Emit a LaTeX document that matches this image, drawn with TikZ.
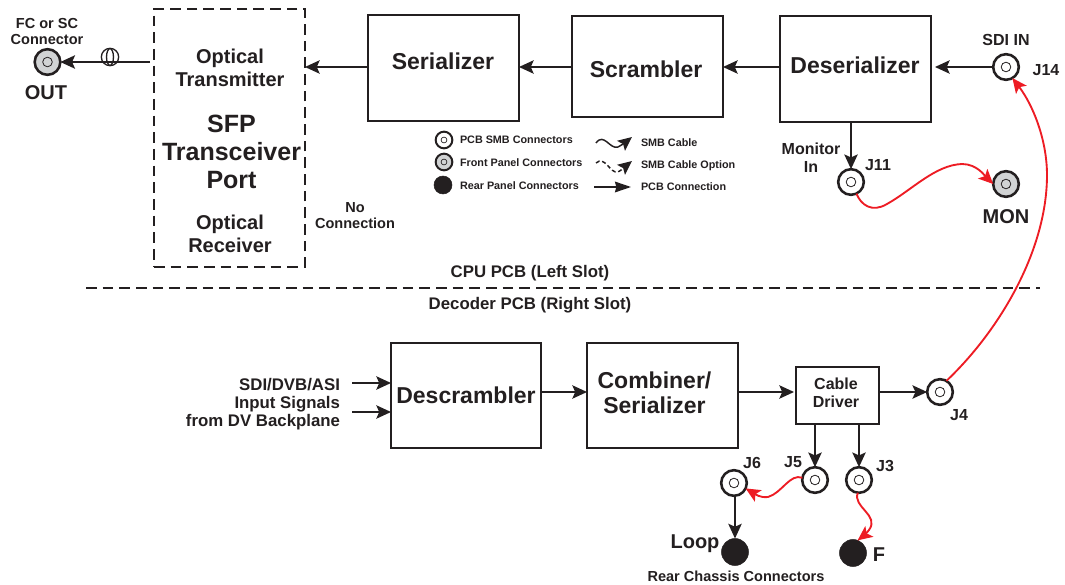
\documentclass[tikz,border=0pt]{standalone}
\usepackage{fontspec}
\setmainfont{Liberation Sans}
\usetikzlibrary{arrows.meta}
\definecolor{ink}{HTML}{231F20}
\definecolor{cablered}{HTML}{ED1C24}
\definecolor{panelgray}{HTML}{D1D3D4}
\tikzset{
  lbl/.style={inner sep=0pt,outer sep=0pt,align=center,text=ink,font=\bfseries},
  f11/.style={lbl,font=\fontsize{8.1}{10}\selectfont\bfseries},
  f14/.style={lbl,font=\fontsize{10.9}{12.6}\selectfont\bfseries},
  f17/.style={lbl,font=\fontsize{12.6}{13.5}\selectfont\bfseries},
  f16/.style={lbl,font=\fontsize{12}{13.5}\selectfont\bfseries},
  f20/.style={lbl,font=\fontsize{15}{17.25}\selectfont\bfseries},
  f23/.style={lbl,font=\fontsize{17.25}{20}\selectfont\bfseries},
  f25/.style={lbl,font=\fontsize{18.75}{21}\selectfont\bfseries},
  blockbox/.style={draw=ink,line width=1.6pt,fill=white,rectangle,inner sep=0pt,outer sep=0pt},
  pcbconn/.style={circle,draw=ink,line width=1.9pt,fill=white,minimum size=19.25pt,inner sep=0pt,outer sep=0pt,
    path picture={\draw[ink,line width=.6pt] (path picture bounding box.center) circle (3.6pt);}},
  panelconn/.style={pcbconn,fill=panelgray},
  rearconn/.style={circle,fill=ink,draw=ink,minimum size=20.25pt,inner sep=0pt,outer sep=0pt},
  pcbarrow/.style={draw=ink,line width=1.5pt,-{Stealth[length=11pt,width=10pt,inset=2.2pt]}},
  cable/.style={draw=cablered,line width=1.4pt,-{Stealth[length=11pt,width=10pt,inset=2.5pt]}},
  legendcurve/.style={draw=ink,line width=1.1pt,-{Stealth[length=10.5pt,width=9.5pt,inset=2pt]}},
}
\begin{document}
\begin{tikzpicture}[x=.75pt,y=-.75pt]
\useasboundingbox (0,0) rectangle (1065,585);
% blocks
\node[blockbox,dash pattern=on 8pt off 4.5pt,minimum width=113.25pt,minimum height=193.5pt] (sfp) at (229.5,138) {};
\node[blockbox,minimum width=113.25pt,minimum height=79.5pt] (ser) at (443.5,68) {};
\node[blockbox,minimum width=113.25pt,minimum height=75.75pt] (scr) at (647.5,66.5) {};
\node[blockbox,minimum width=113.25pt,minimum height=79.5pt] (des) at (855.5,69) {};
\node[blockbox,minimum width=112.5pt,minimum height=78.75pt] (dsc) at (466,395.5) {};
\node[blockbox,minimum width=113.25pt,minimum height=78.75pt] (cmb) at (662.5,395.5) {};
\node[blockbox,minimum width=62.25pt,minimum height=42.75pt] (drv) at (837.5,395.5) {};
% block text
\node[f23] (serT) at (443,61) {Serializer};
\node[f23] (scrT) at (646,69) {Scrambler};
\node[f23] (desT) at (855,65) {Deserializer};
\node[f23] (dscT) at (466,395) {Descrambler};
\node[f23] (cmbT) at (654.5,393) {Combiner/\\[-1.25pt]Serializer};
\node[f16] (drvT) at (836,393) {Cable\\Driver};
\node[f20] (txT) at (230,67.5) {Optical\\Transmitter};
\node[f25] (sfpT) at (231.5,152) {SFP\\Transceiver\\Port};
\node[f20] (rxT) at (230,233.5) {Optical\\Receiver};
% connectors
\node[panelconn] (out) at (47.5,62) {};
\node[pcbconn] (j14) at (1006,67) {};
\node[pcbconn] (j11) at (851,182) {};
\node[panelconn] (mon) at (1006,184) {};
\node[pcbconn] (j4) at (940,392) {};
\node[pcbconn] (j5) at (815,480) {};
\node[pcbconn] (j3) at (859,480) {};
\node[pcbconn] (j6) at (734,483) {};
\node[rearconn] (loop) at (735,552) {};
\node[rearconn] (fconn) at (853,553) {};
% helper rows
\coordinate (row1) at (0,67);
\coordinate (row2) at (0,392);
% fibre
\coordinate (fibstart) at (150,62);
\draw[pcbarrow] (fibstart) -- (out.east);
\node[circle,draw=ink,line width=1pt,minimum size=13pt,inner sep=0pt] (coil) at (110,57) {};
\draw[ink,line width=1pt] (coil.center) ellipse (2.6pt and 6.3pt);
% PCB arrows
\draw[pcbarrow] (ser.west |- row1) -- (sfp.east |- row1);
\draw[pcbarrow] (scr.west |- row1) -- (ser.east |- row1);
\draw[pcbarrow] (des.west |- row1) -- (scr.east |- row1);
\draw[pcbarrow,shorten >=3pt] (j14.west) -- (des.east |- j14.west);
\draw[pcbarrow] (des.south -| j11.north) -- (j11.north);
\draw[pcbarrow] (dsc.east |- row2) -- (cmb.west |- row2);
\draw[pcbarrow,shorten >=1.5pt] (cmb.east |- row2) -- (drv.west |- row2);
\draw[pcbarrow] (drv.east |- row2) -- (j4.west);
\draw[pcbarrow] (drv.south -| j5.north) -- (j5.north);
\draw[pcbarrow] (drv.south -| j3.north) -- (j3.north);
\draw[pcbarrow] (j6.south -| loop.north) -- (loop.north);
\coordinate (in1) at (352,383);
\coordinate (in2) at (352,412);
\draw[pcbarrow] (in1) -- (in1 -| dsc.west);
\draw[pcbarrow] (in2) -- (in2 -| dsc.west);
% cables
\draw[cable] (j11.-65) .. controls (861,205) and (872,213) .. (887,204)
  .. controls (912,190) and (935,165) .. (962,164)
  .. controls (977,164) and (985,176) .. (mon.west);
\draw[cable] (j4.60) .. controls (1000,330) and (1047,250) .. (1047,175)
  .. controls (1047,140) and (1033,105) .. (j14.-60);
\draw[cable] (j5.170) .. controls (790,473) and (782,493) .. (768,497)
  .. controls (760,498) and (755,494) .. (j6.-25);
\draw[cable] (j3.-95) .. controls (852,507) and (880,515) .. (869,530)
  .. controls (866,534) and (862,537) .. (fconn.70);
% divider
\coordinate (divL) at (86,288);
\coordinate (divR) at (1040,288);
\draw[ink,line width=1.5pt,dash pattern=on 8pt off 4.5pt] (divL) -- (divR);
% labels
\node[f14] (fcsc) at (47,31.5) {FC or SC\\Connector};
\node[f20] (outT) at (46,92.5) {OUT};
\node[f14] (noconn) at (355,215.5) {No\\Connection};
\node[f16] (monin) at (811,158) {Monitor\\In};
\node[f16] (j11T) at (878,165) {J11};
\node[f16] (sdiin) at (1006,40) {SDI IN};
\node[f16] (j14T) at (1046,70) {J14};
\node[f20] (monT) at (1006,217) {MON};
\node[f17] (cpu) at (530,273) {CPU PCB (Left Slot)};
\node[f17] (dec) at (530,305) {Decoder PCB (Right Slot)};
\node[f17,align=right,anchor=east] (inputs) at (340,404.5) {SDI/DVB/ASI\\Input Signals\\from DV Backplane};
\node[f16] (j4T) at (959,415) {J4};
\node[f16] (j5T) at (793,462) {J5};
\node[f16] (j6T) at (752,463) {J6};
\node[f16] (j3T) at (885,466) {J3};
\node[f20] (loopT) at (695,544) {Loop};
\node[f20] (fT) at (879,555) {F};
\node[f14] (rear) at (736,576) {Rear Chassis Connectors};
% legend
\node[pcbconn,minimum size=12.5pt,line width=1.5pt,path picture={\draw[ink,line width=.5pt] (path picture bounding box.center) circle (2.2pt);}] (lg1) at (444,140) {};
\node[panelconn,minimum size=12.5pt,line width=1.5pt,path picture={\draw[ink,line width=.5pt] (path picture bounding box.center) circle (2.2pt);}] (lg2) at (444,162) {};
\node[rearconn,minimum size=13.5pt] (lg3) at (443,185) {};
\node[f11,anchor=west] (lg1T) at (460,139.5) {PCB SMB Connectors};
\node[f11,anchor=west] (lg2T) at (460,163) {Front Panel Connectors};
\node[f11,anchor=west] (lg3T) at (460,186) {Rear Panel Connectors};
\node[f11,anchor=west] (lg4T) at (641,142.5) {SMB Cable};
\node[f11,anchor=west] (lg5T) at (641,165.5) {SMB Cable Option};
\node[f11,anchor=west] (lg6T) at (641,186.5) {PCB Connection};
\coordinate (c1a) at (596,143);
\coordinate (c1b) at (632,137);
\coordinate (c2a) at (596,163);
\coordinate (c2b) at (632,161);
\coordinate (c3a) at (594,187);
\coordinate (c3b) at (631,187);
\draw[legendcurve] (c1a) .. controls (604,132) and (610,150) .. (618,147) .. controls (622,145) and (627,141) .. (c1b);
\draw[legendcurve,densely dashed] (c2a) .. controls (605,155) and (610,174) .. (618,172) .. controls (622,170) and (627,165) .. (c2b);
\draw[draw=ink,line width=1.2pt,-{Stealth[length=12pt,width=8pt,inset=1pt]}] (c3a) -- (c3b);
\end{tikzpicture}
\end{document}
